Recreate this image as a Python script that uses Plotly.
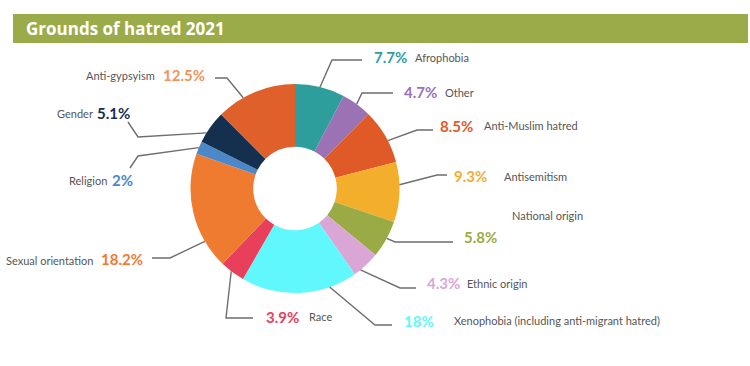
import math
import plotly.graph_objects as go

# ---------------- data ----------------
categories = ["Afrophobia", "Other", "Anti-Muslim hatred", "Antisemitism", "National origin",
              "Ethnic origin", "Xenophobia (including anti-migrant hatred)", "Race",
              "Sexual orientation", "Religion", "Gender", "Anti-gypsyism"]
values = [7.7, 4.7, 8.5, 9.3, 5.8, 4.3, 18.0, 3.9, 18.2, 2.0, 5.1, 12.5]
pct_labels = ["7.7%", "4.7%", "8.5%", "9.3%", "5.8%", "4.3%", "18%", "3.9%", "18.2%", "2%", "5.1%", "12.5%"]
title_text = "Grounds of hatred 2021"

# ---------------- styles ----------------
slice_colors = ["#2E9E9C", "#9B72B4", "#E05A27", "#F3AE2B", "#9AAB45", "#D9A6D6",
                "#60F8FC", "#E8405A", "#EF7B31", "#4C87C8", "#152F4F", "#E0602C"]
pct_colors = ["#2E9E9C", "#9B72B4", "#E05A27", "#F3AE2B", "#9AAB45", "#D9A6D6",
              "#60F8FC", "#E8405A", "#EF7B31", "#4C87C8", "#152F4F", "#F0945C"]

W, H = 750, 366
CX, CY, R = 295, 188.5, 104.5

# label layout (pixel positions): frac along slice for leader start, elbow, end, pct pos, name pos
label_layout = [
    dict(frac=0.5,  elbow=(332, 60),  end=(362, 60),  pct=(372, 57),  name=(413, 58)),
    dict(frac=0.5,  elbow=(362, 93),  end=(393, 93),  pct=(402, 92),  name=(443, 92)),
    dict(frac=0.59, elbow=(417, 130), end=(433, 130), pct=(438, 126), name=(482, 126)),
    dict(frac=0.38, elbow=(437, 175), end=(447, 175), pct=(452, 176), name=(502, 176)),
    dict(frac=0.47, elbow=(395, 242), end=(453, 242), pct=(462, 237), name=(510, 215)),
    dict(frac=0.75, elbow=(400, 288), end=(416, 288), pct=(425, 283), name=(465, 283)),
    dict(frac=0.24, elbow=(375, 325), end=(392, 325), pct=(402, 321), name=(452, 320)),
    dict(frac=0.55, elbow=(226, 318), end=(253, 318), pct=(264, 317), name=(307, 316)),
    dict(frac=0.24, elbow=(170, 258), end=(152, 258), pct=(99, 259),  name=(4, 260)),
    dict(frac=0.5,  elbow=(138, 156), end=(130, 168), pct=(110, 180), name=(67, 180)),
    dict(frac=0.3,  elbow=(138, 137), end=(128, 122), pct=(95, 113),  name=(55, 113)),
    dict(frac=0.34, elbow=(227, 78),  end=(215, 78),  pct=(161, 75),  name=(84, 75)),
]

def px(x):
    return x / W

def py(y):
    return 1 - y / H

fig = go.Figure()
fig.add_trace(go.Pie(
    labels=categories, values=values, sort=False, direction="clockwise", rotation=0,
    hole=0.4, marker=dict(colors=slice_colors, line=dict(width=0)),
    textinfo="none", hoverinfo="label+percent",
    domain=dict(x=[px(CX - R), px(CX + R)], y=[py(CY + R), py(CY - R)]),
))

shapes = []
annotations = []
total = sum(values)
cum = 0.0
name_font = "Lato, 'Open Sans', sans-serif"
for i, v in enumerate(values):
    lay = label_layout[i]
    ang = math.radians((cum + lay["frac"] * v) / total * 360.0)
    cum += v
    sx = CX + R * math.sin(ang)
    sy = CY - R * math.cos(ang)
    pts = [(sx, sy), lay["elbow"], lay["end"]]
    path = "M {} {} L {} {} L {} {}".format(px(pts[0][0]), py(pts[0][1]), px(pts[1][0]), py(pts[1][1]),
                                           px(pts[2][0]), py(pts[2][1]))
    shapes.append(dict(type="path", xref="paper", yref="paper", path=path,
                       line=dict(color="#6E6E6E", width=1.4)))
    annotations.append(dict(xref="paper", yref="paper", x=px(lay["pct"][0]), y=py(lay["pct"][1]),
                            xanchor="left", yanchor="middle", showarrow=False,
                            text="<b>" + pct_labels[i] + "</b>",
                            font=dict(family=name_font, size=15, color=pct_colors[i])))
    annotations.append(dict(xref="paper", yref="paper", x=px(lay["name"][0]), y=py(lay["name"][1]),
                            xanchor="left", yanchor="middle", showarrow=False,
                            text=categories[i],
                            font=dict(family=name_font, size=11, color="#555555")))

# title bar
shapes.append(dict(type="rect", xref="paper", yref="paper", x0=px(13), x1=px(748), y0=py(43), y1=py(14),
                   fillcolor="#9CAB4A", line=dict(width=0), layer="below"))
annotations.append(dict(xref="paper", yref="paper", x=px(24), y=py(29), xanchor="left", yanchor="middle",
                        showarrow=False, text="<b>" + title_text + "</b>",
                        font=dict(family="'Open Sans', Lato, sans-serif", size=17, color="white")))

fig.update_layout(width=W, height=H, autosize=False, margin=dict(l=0, r=0, t=0, b=0),
                  showlegend=False, paper_bgcolor="white", plot_bgcolor="white",
                  shapes=shapes, annotations=annotations)

fig.write_html("out.html", config={"displayModeBar": False},
               post_script="document.body.style.margin='0';document.body.style.padding='0';")
